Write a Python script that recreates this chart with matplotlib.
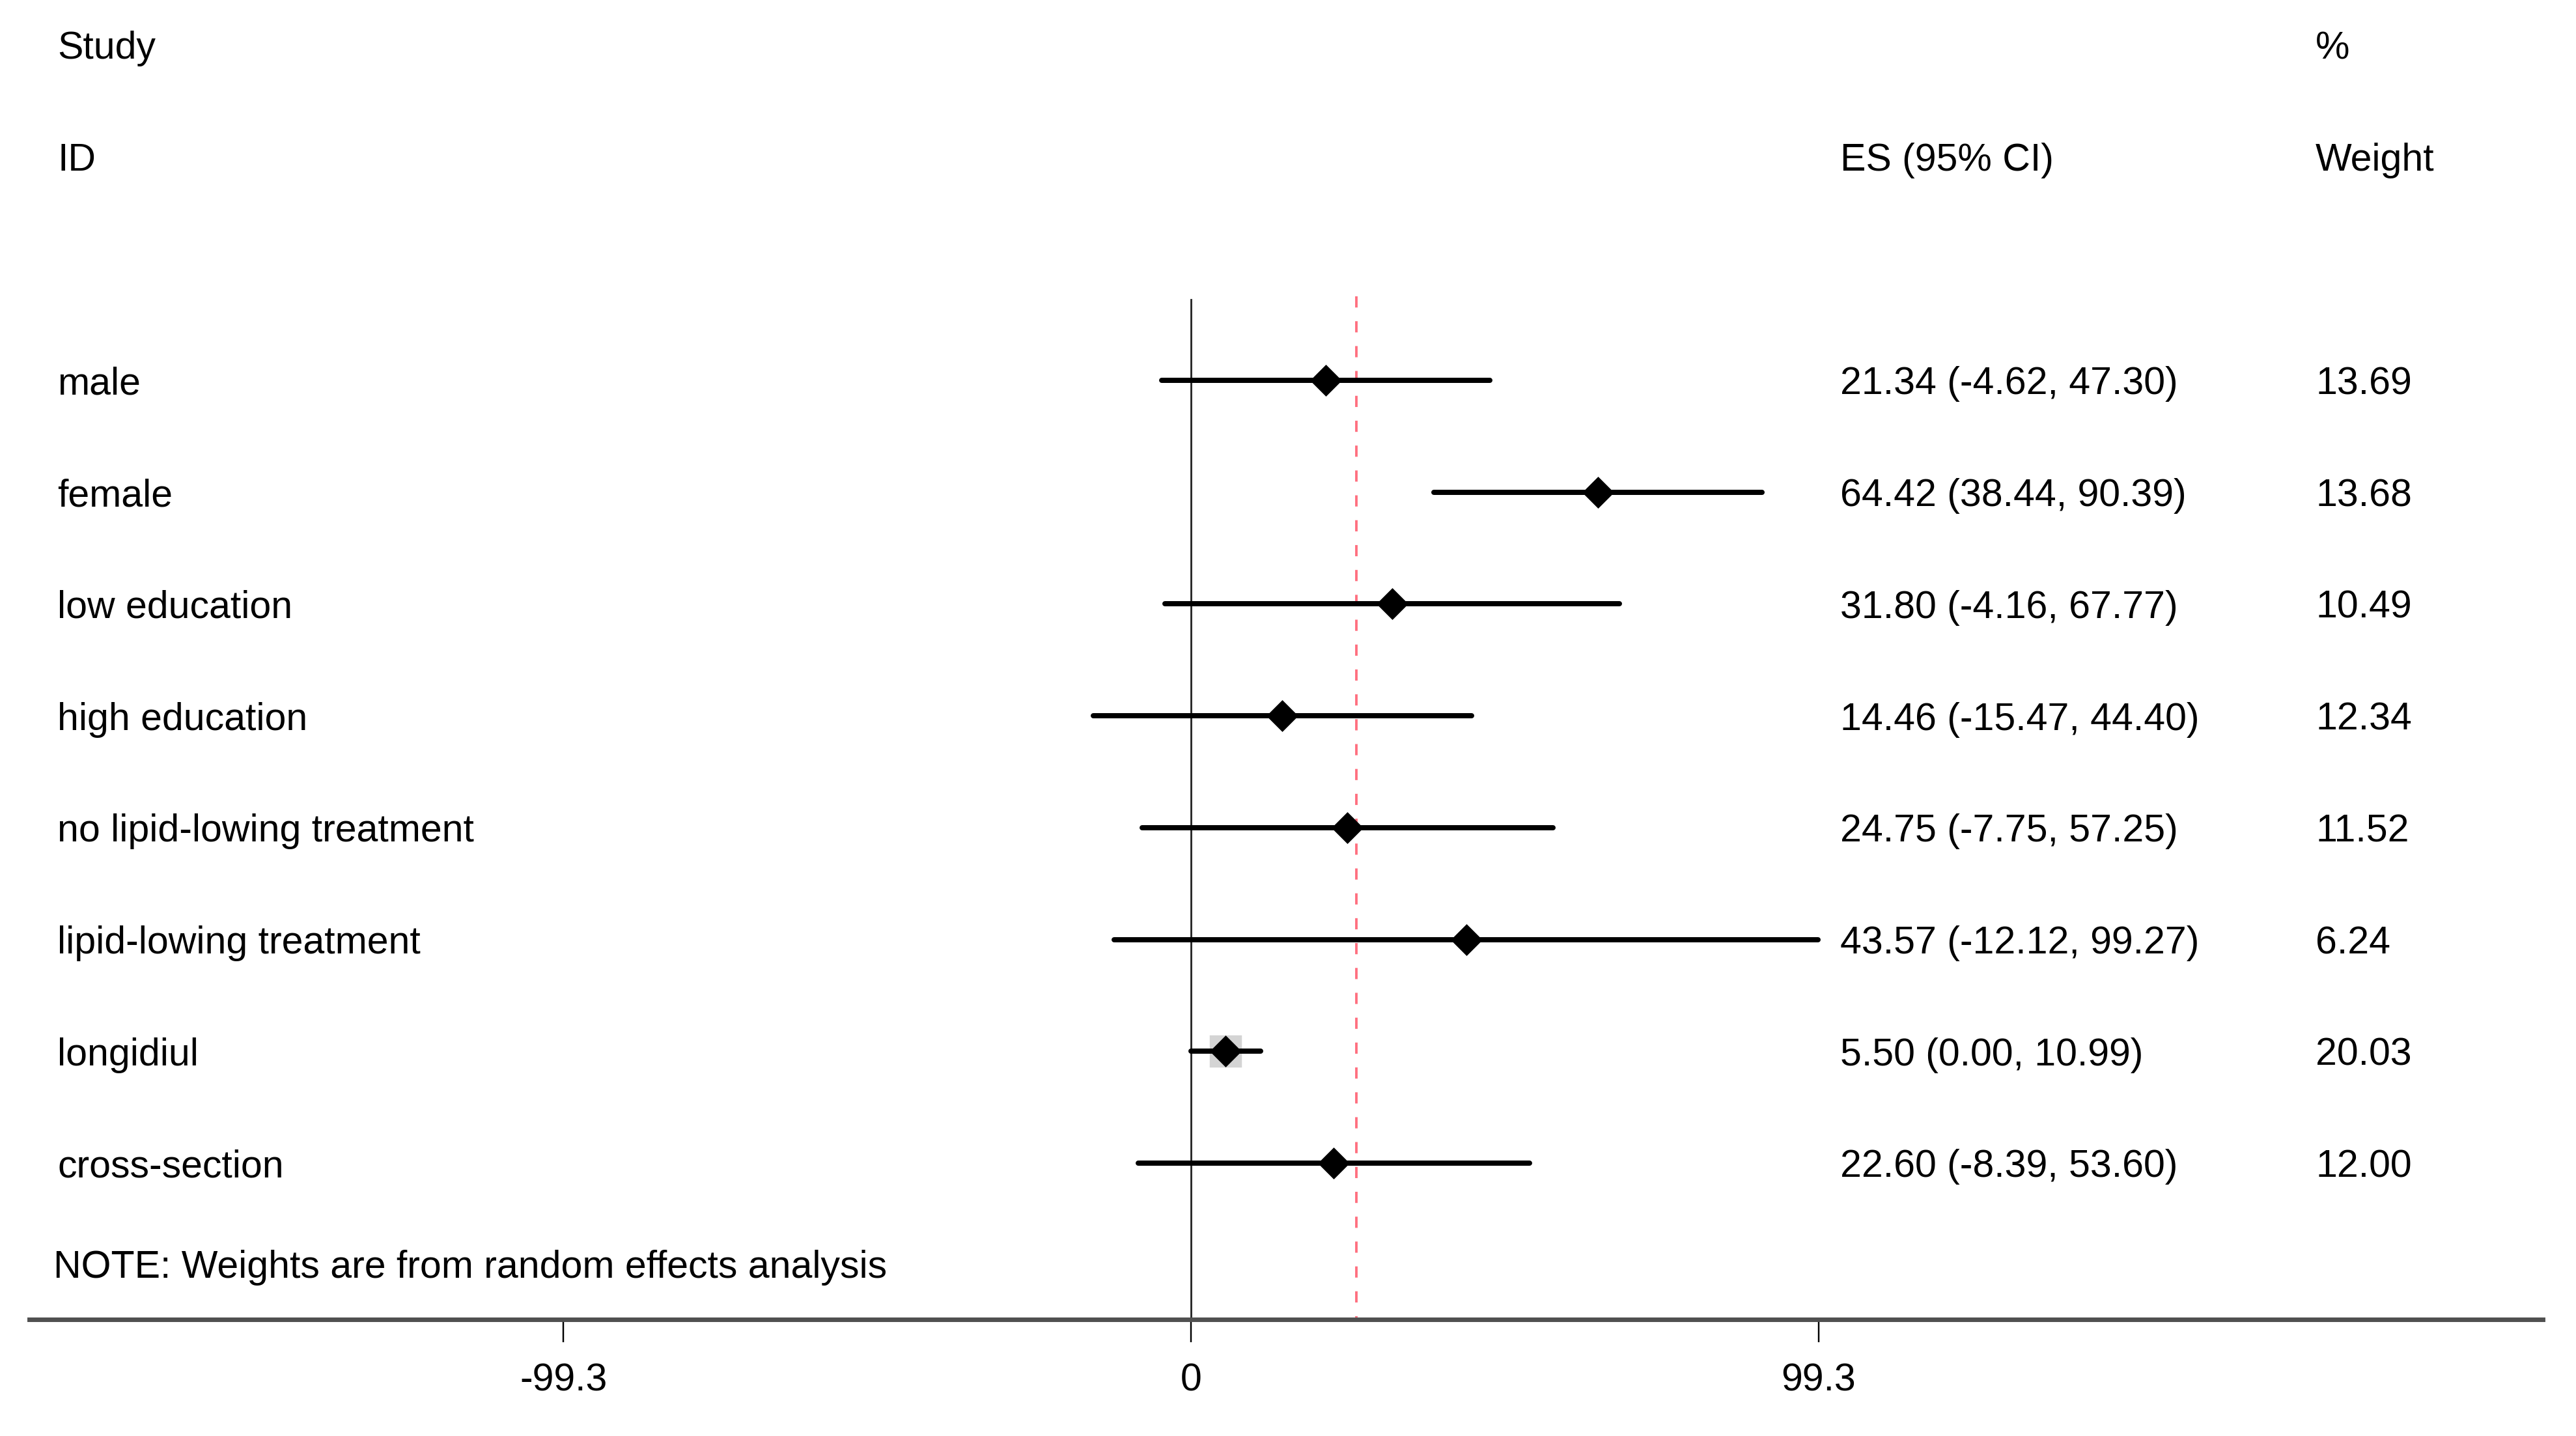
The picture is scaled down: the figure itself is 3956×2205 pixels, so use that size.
import matplotlib.pyplot as plt

plt.rcParams['font.family'] = ['Liberation Sans', 'DejaVu Sans']

studies = ['male', 'female', 'low education', 'high education',
           'no lipid-lowing treatment', 'lipid-lowing treatment',
           'longidiul', 'cross-section']
es = [21.34, 64.42, 31.80, 14.46, 24.75, 43.57, 5.50, 22.60]
lo = [-4.62, 38.44, -4.16, -15.47, -7.75, -12.12, 0.00, -8.39]
hi = [47.30, 90.39, 67.77, 44.40, 57.25, 99.27, 10.99, 53.60]
weights = [13.69, 13.68, 10.49, 12.34, 11.52, 6.24, 20.03, 12.00]
overall = 26.2
ticks = [-99.3, 0, 99.3]
tick_labels = ['-99.3', '0', '99.3']

fig = plt.figure(figsize=(15.824, 8.82), dpi=250)
ax = fig.add_axes([0.0115, 0.081, 0.9755, 0.919])
ax.set_xlim(-183.8, 213.9)
ax.set_ylim(8.4, -3.4)

fs = 17
dy = 0.035  # small nudge so text sits on the row line
x_lab, x_es, x_w = -179.4, 102.7, 178.0

# header
ax.text(x_lab, -3 + dy, 'Study', fontsize=fs, va='center')
ax.text(x_lab, -2 + dy, 'ID', fontsize=fs, va='center')
ax.text(x_es, -2 + dy, 'ES (95% CI)', fontsize=fs, va='center')
ax.text(x_w, -3 + dy, '%', fontsize=fs, va='center')
ax.text(x_w, -2 + dy, 'Weight', fontsize=fs, va='center')

# null line and overall line
ax.plot([0, 0], [-0.72, 8.4], color='#222222', lw=0.8, zorder=1)
ax.plot([overall, overall], [-0.75, 8.4], color='#ff6f7f', lw=1.1,
        dashes=(4.5, 5.5), zorder=1)

# weight box for the largest weight
i_max = weights.index(max(weights))
ax.plot(es[i_max], i_max, marker='s', ms=13, color='#d4d4d4', zorder=2)

for i, s in enumerate(studies):
    ax.plot([lo[i], hi[i]], [i, i], color='black', lw=2.3,
            solid_capstyle='round', zorder=3)
    ax.plot(es[i], i, marker='D', ms=9, color='black', zorder=4)
    ax.text(x_lab, i + dy, s, fontsize=fs, va='center')
    ax.text(x_es, i + dy, '%.2f (%.2f, %.2f)' % (es[i], lo[i], hi[i]),
            fontsize=fs, va='center')
    ax.text(x_w, i + dy, '%.2f' % weights[i], fontsize=fs, va='center')

ax.text(-180.0, 7.9 + dy, 'NOTE: Weights are from random effects analysis',
        fontsize=fs, va='center')

for sp in ['left', 'right', 'top']:
    ax.spines[sp].set_visible(False)
ax.spines['bottom'].set_color('#505050')
ax.spines['bottom'].set_linewidth(2)
ax.set_yticks([])
ax.set_xticks(ticks)
ax.set_xticklabels(tick_labels)
ax.tick_params(axis='x', length=10, width=0.7, pad=9, labelsize=fs)

fig.savefig('out.png', dpi=250)
